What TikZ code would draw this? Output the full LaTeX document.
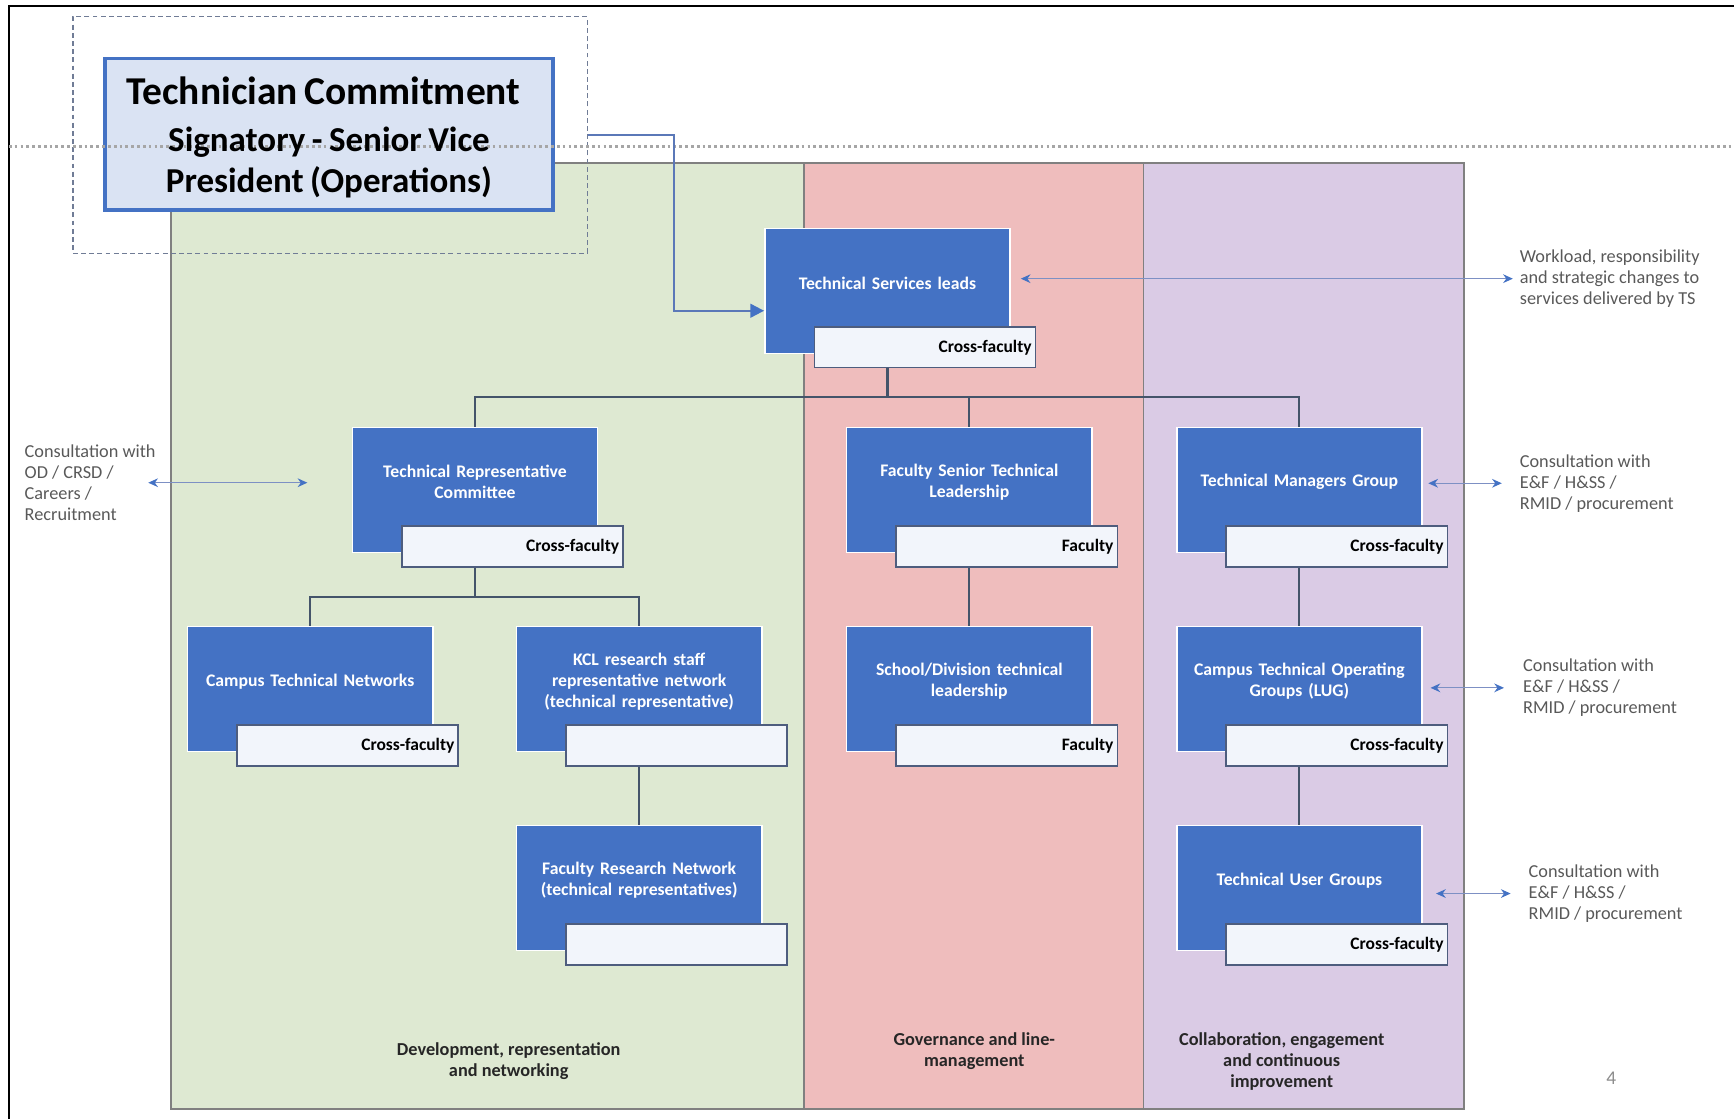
\documentclass[tikz,border=0pt]{standalone}
\usepackage{fontspec}
\setmainfont{Carlito}
\usepackage{tikz}
\usetikzlibrary{arrows.meta}
\definecolor{boxblue}{RGB}{68,114,196}
\definecolor{tagfill}{RGB}{242,245,251}
\definecolor{tagline}{RGB}{78,93,126}
\definecolor{linkcol}{RGB}{68,84,106}
\definecolor{colgreen}{RGB}{222,233,210}
\definecolor{colpink}{RGB}{239,189,189}
\definecolor{colpurple}{RGB}{218,203,229}
\definecolor{colline}{RGB}{128,128,128}
\definecolor{titlefill}{RGB}{218,227,243}
\definecolor{dashcol}{RGB}{112,124,150}
\definecolor{dotcol}{RGB}{166,166,166}
\definecolor{sidecol}{RGB}{125,144,196}
\definecolor{arrowblue}{RGB}{91,120,184}
\definecolor{textgray}{RGB}{89,89,89}
\tikzstyle{unit} = [rectangle, minimum width=4.42cm, minimum height=2.26cm, text width=4.2cm, align=center, fill=boxblue, draw=white, line width=0.8pt, text=white, font=\fontsize{9.1}{10.8}\selectfont\bfseries, execute at end node={\endgraf\vspace*{8pt}}]
\tikzstyle{tagbox} = [rectangle, anchor=south east, minimum height=0.74cm, text width=3.86cm, inner xsep=0.07cm, align=right, fill=tagfill, draw=tagline, line width=0.8pt, font=\fontsize{9}{10.8}\selectfont\bfseries]
\tikzstyle{link} = [draw=linkcol, line width=1.1pt]
\tikzstyle{side} = [draw=sidecol, line width=0.6pt, {Stealth[length=5pt,width=4.5pt,color=boxblue]}-{Stealth[length=5pt,width=4.5pt,color=boxblue]}]
\tikzstyle{titlelink} = [draw=arrowblue, line width=1pt, -{Triangle[length=7pt,width=7pt,color=boxblue]}]
\tikzstyle{note} = [anchor=west, inner sep=0pt, align=left, text=textgray, font=\fontsize{9.4}{10.8}\selectfont]
\tikzstyle{collabel} = [align=center, text=black!85, font=\fontsize{9.4}{10.8}\selectfont\bfseries]
\tikzstyle{column} = [draw=colline, line width=1pt]

\begin{document}
\begin{tikzpicture}[node distance=3.6cm]
  \useasboundingbox (0,0) rectangle (31.36,-20.24);
  % slide frame and columns
  \draw[line width=1pt] (0.16,-20.24) -- (0.16,-0.11) -- (31.36,-0.11);
  \draw[column, fill=colgreen] (3.1,-2.94) rectangle (14.54,-20.06);
  \draw[column, fill=colpink] (14.54,-2.94) rectangle (20.68,-20.06);
  \draw[column, fill=colpurple] (20.68,-2.94) rectangle (26.48,-20.06);

  % signatory
  \node (signgroup) [draw=dashcol, line width=0.6pt, dash pattern=on 2.5pt off 1.7pt, minimum width=9.3cm, minimum height=4.28cm] at (5.97,-2.44) {};
  \node (title) [draw=boxblue, line width=1.8pt, fill=titlefill, minimum width=8.1cm, minimum height=2.74cm] at (5.95,-2.43) {};
  \draw[dotcol, line width=1.4pt, dash pattern=on 1.4pt off 1.6pt] (0.16,-2.65) -- (31.36,-2.65);
  \node (titletext) [text width=8cm, align=center, font=\bfseries] at ([yshift=-0.05cm]title.center)
    {\fontsize{20.3}{24}\selectfont Technician Commitment\hspace*{0.2cm}\par\vspace{3.4pt}
     \fontsize{18}{21}\selectfont Signatory - Senior Vice\\President (Operations)\par};

  % units
  \node (tsl) [unit] at (16.05,-5.26) {Technical Services leads};
  \node (tsltag) [tagbox] at ([shift={(0.46,-0.26)}]tsl.south east) {Cross-faculty};
  \node (trc) [unit, below of=tsl, xshift=-7.46cm] {Technical Representative\\Committee};
  \node (trctag) [tagbox] at ([shift={(0.46,-0.26)}]trc.south east) {Cross-faculty};
  \node (fstl) [unit, below of=tsl, xshift=1.48cm] {Faculty Senior Technical\\Leadership};
  \node (fstltag) [tagbox] at ([shift={(0.46,-0.26)}]fstl.south east) {Faculty};
  \node (tmg) [unit, below of=tsl, xshift=7.45cm] {Technical Managers Group};
  \node (tmgtag) [tagbox] at ([shift={(0.46,-0.26)}]tmg.south east) {Cross-faculty};
  \node (ctn) [unit, below of=trc, xshift=-2.98cm] {Campus Technical Networks};
  \node (ctntag) [tagbox] at ([shift={(0.46,-0.26)}]ctn.south east) {Cross-faculty};
  \node (kcl) [unit, below of=trc, xshift=2.97cm] {KCL research staff\\representative network\\(technical representative)};
  \node (kcltag) [tagbox] at ([shift={(0.46,-0.26)}]kcl.south east) {};
  \node (sdtl) [unit, below of=fstl] {School/Division technical\\leadership};
  \node (sdtltag) [tagbox] at ([shift={(0.46,-0.26)}]sdtl.south east) {Faculty};
  \node (ctog) [unit, below of=tmg] {Campus Technical Operating\\Groups (LUG)};
  \node (ctogtag) [tagbox] at ([shift={(0.46,-0.26)}]ctog.south east) {Cross-faculty};
  \node (frn) [unit, below of=kcl] {Faculty Research Network\\(technical representatives)};
  \node (frntag) [tagbox] at ([shift={(0.46,-0.26)}]frn.south east) {};
  \node (tug) [unit, below of=ctog] {Technical User Groups};
  \node (tugtag) [tagbox] at ([shift={(0.46,-0.26)}]tug.south east) {Cross-faculty};

  % notes
  \node (wkload) [note] at (27.48,-5.04) {Workload, responsibility\\and strategic changes to\\services delivered by TS};
  \node (consod) [note] at (0.44,-8.73) {Consultation with\\OD / CRSD /\\Careers /\\Recruitment};
  \node (constmg) [note] at (27.48,-8.74) {Consultation with\\E\&F / H\&SS /\\RMID / procurement};
  \node (consctog) [note] at (27.54,-12.44) {Consultation with\\E\&F / H\&SS /\\RMID / procurement};
  \node (constug) [note] at (27.64,-16.16) {Consultation with\\E\&F / H\&SS /\\RMID / procurement};
  \node (devlabel) [collabel] at (9.2,-19.19) {Development, representation\\and networking};
  \node (govlabel) [collabel] at (17.62,-19.01) {Governance and line-\\management};
  \node (colllabel) [collabel] at (23.18,-19.2) {Collaboration, engagement\\and continuous\\improvement};
  \node (pagenum) [text=black!45, font=\fontsize{10}{12}\selectfont] at (29.14,-19.5) {4};

  % connectors
  \draw[titlelink] (signgroup.east) -- ++(1.56,0) |- ([yshift=-0.36cm]tsl.west);
  \draw[link] (tsl.center |- tsltag.south) -- ++(0,-0.52) coordinate (tslfork);
  \draw[link] (tslfork) -| (trc.north);
  \draw[link] (tslfork) -| (fstl.north);
  \draw[link] (tslfork) -| (tmg.north);
  \draw[link] (trc.center |- trctag.south) -- ++(0,-0.54) coordinate (trcfork);
  \draw[link] (trcfork) -| (ctn.north);
  \draw[link] (trcfork) -| (kcl.north);
  \draw[link] (kcl.center |- kcltag.south) -- (frn.north);
  \draw[link] (fstl.center |- fstltag.south) -- (sdtl.north);
  \draw[link] (tmg.center |- tmgtag.south) -- (ctog.north);
  \draw[link] (ctog.center |- ctogtag.south) -- (tug.north);
  \draw[side, shorten <=0.18cm, shorten >=0.12cm] (wkload.west -| tsl.east) -- (wkload.west);
  \draw[side, shorten >=0.8cm] ([xshift=-0.14cm]consod.east) -- (consod.east -| trc.west);
  \draw[side, shorten <=0.1cm, shorten >=0.32cm] (constmg.west -| tmg.east) -- (constmg.west);
  \draw[side, shorten <=0.14cm, shorten >=0.34cm] (consctog.west -| ctog.east) -- (consctog.west);
  \draw[side, shorten <=0.24cm, shorten >=0.32cm] (constug.west -| tug.east) -- (constug.west);
\end{tikzpicture}
\end{document}
